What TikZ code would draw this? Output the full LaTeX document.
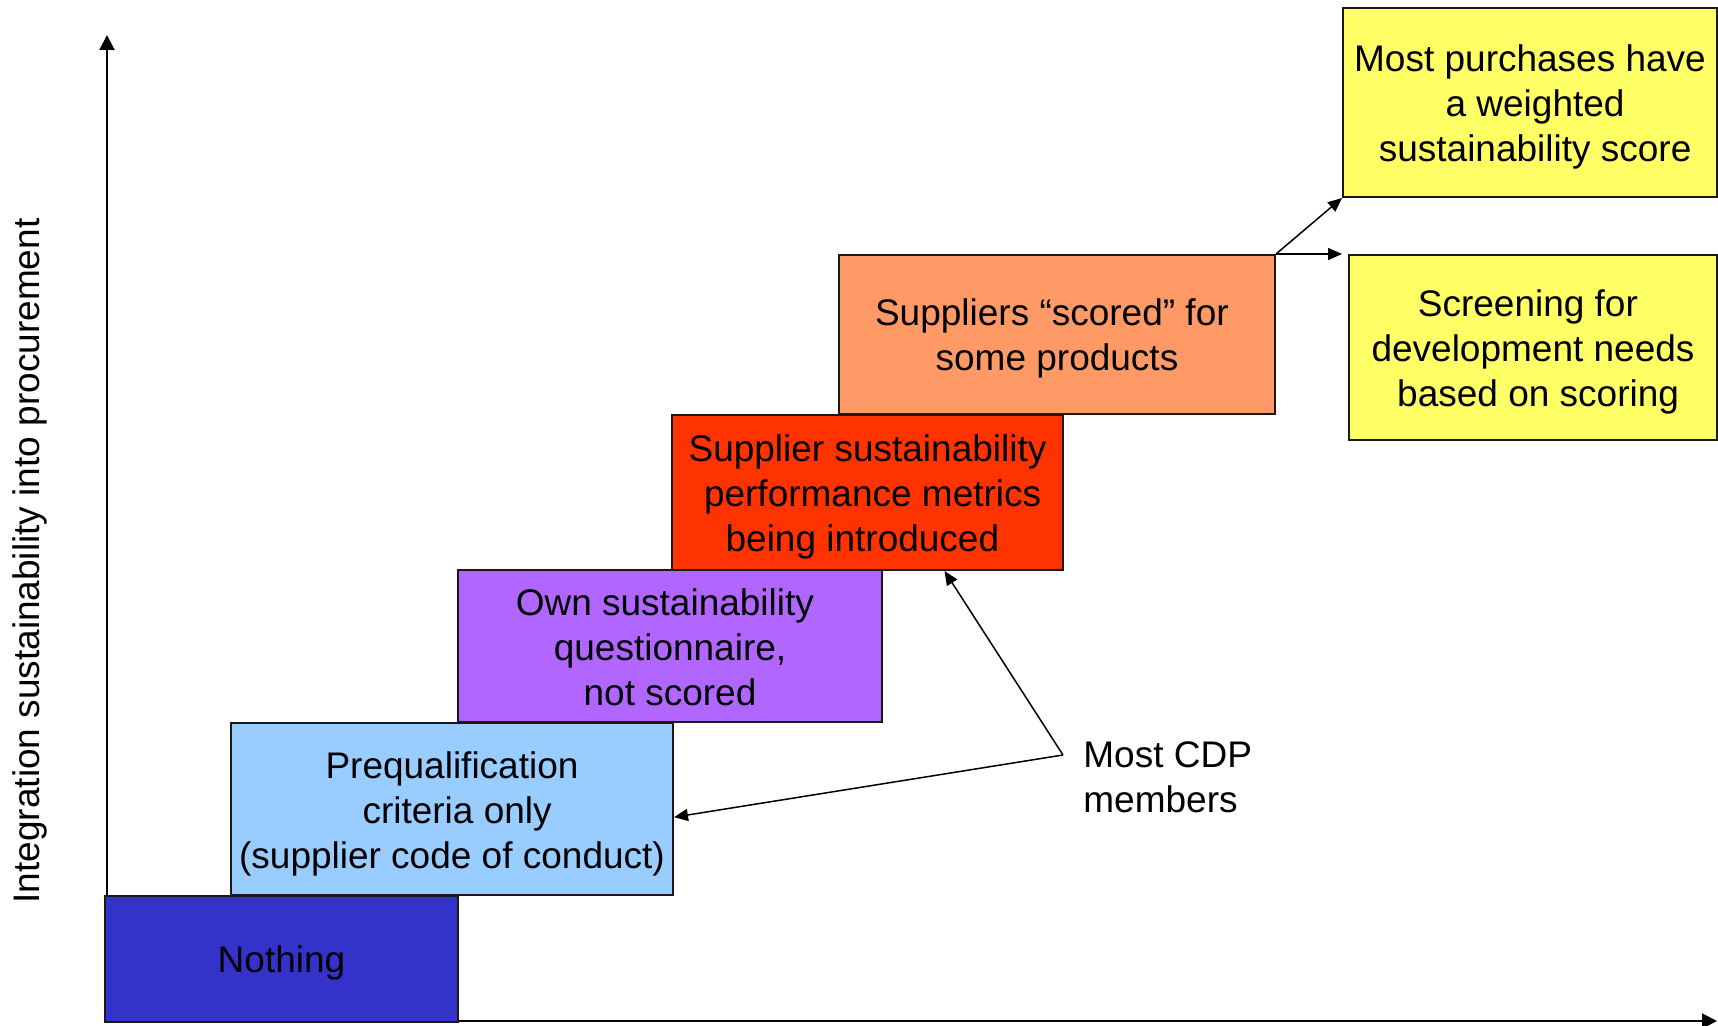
\documentclass[tikz,border=0pt]{standalone}
\usepackage{fontspec}
\setmainfont{Liberation Sans}
\usetikzlibrary{arrows.meta,calc}
\definecolor{cnothing}{HTML}{3333CC}
\definecolor{cprequal}{HTML}{99CCFF}
\definecolor{cown}{HTML}{B066FF}
\definecolor{cred}{HTML}{FF3300}
\definecolor{corange}{HTML}{FF9966}
\definecolor{cyellow}{HTML}{FFFF66}
\newcommand\mytopstrut{\rule{0pt}{18pt}}
\newcommand\mybotstrut{\rule[-4pt]{0pt}{4pt}}
\newcommand\myspc{\hspace*{5.1pt}}
\tikzset{
  stepbox/.style={draw=black!90, line width=1pt, inner sep=0pt, align=center,
    font=\fontsize{18.5}{22.5}\selectfont},
  axisline/.style={line width=1pt, -{Triangle[length=7.5pt,width=7.5pt]}},
  conn/.style={line width=0.75pt, -{Triangle[length=7pt,width=6pt]}},
  plain/.style={font=\fontsize{18.5}{22.5}\selectfont, inner sep=0pt}
}
\begin{document}
\begin{tikzpicture}[x=0.5pt,y=-0.5pt]
\useasboundingbox (0,0) rectangle (1718,1026);
% axes
\coordinate (origin) at (107,1021);
\coordinate (ytop) at (107,35);
\coordinate (xstart) at (105,1021);
\coordinate (xend) at (1717,1021);
\draw[axisline] (origin) -- (ytop);
\draw[axisline] (xstart) -- (xend);
\node[plain, rotate=90] (ylabel) at (30,561) {Integration sustainability into procurement};
% steps
\node[stepbox, fill=cnothing, minimum width=176.5pt, minimum height=63pt] (nothing) at (281.5,959) {\raisebox{0pt}[\height][0pt]{Nothing}};
\node[stepbox, fill=cprequal, minimum width=221pt, minimum height=86pt] (pq) at (452,809) {\mytopstrut Prequalification\\ \myspc criteria only\\(supplier code of conduct)\mybotstrut};
\node[stepbox, fill=cown, minimum width=212pt, minimum height=76pt] (own) at (670,646) {\mytopstrut Own sustainability\myspc\\questionnaire,\myspc\\not scored\mybotstrut};
\node[stepbox, fill=cred, minimum width=195.5pt, minimum height=77.5pt] (red) at (867.5,492.5) {\mytopstrut Supplier sustainability\\\myspc performance metrics\\being introduced\myspc\mybotstrut};
\node[stepbox, fill=corange, minimum width=218pt, minimum height=79.5pt] (orange) at (1057,334.5) {\mytopstrut Suppliers “scored” for\myspc\\some products\mybotstrut};
\node[stepbox, fill=cyellow, minimum width=187pt, minimum height=94.5pt] (y1) at (1530,102.5) {\mytopstrut Most purchases have\\\myspc a weighted\\\myspc sustainability score\mybotstrut};
\node[stepbox, fill=cyellow, minimum width=184pt, minimum height=92.5pt] (y2) at (1533,347.5) {\mytopstrut Screening for\myspc\\development needs\\\myspc based on scoring\mybotstrut};
% connectors
\draw[conn] (orange.north east) -- (y1.south west);
\draw[conn, shorten >=3pt] (orange.north east) -- (y2.north west);
% CDP
\node[plain, align=left, anchor=west] (cdp) at (1083,777) {Most CDP\\members};
\coordinate (cdpv) at (1063,755);
\draw[conn] (cdpv) -- ($(red.south west)!0.696!(red.south east)$);
\draw[conn] (cdpv) -- ($(pq.north east)!0.547!(pq.south east)$);
\end{tikzpicture}
\end{document}
